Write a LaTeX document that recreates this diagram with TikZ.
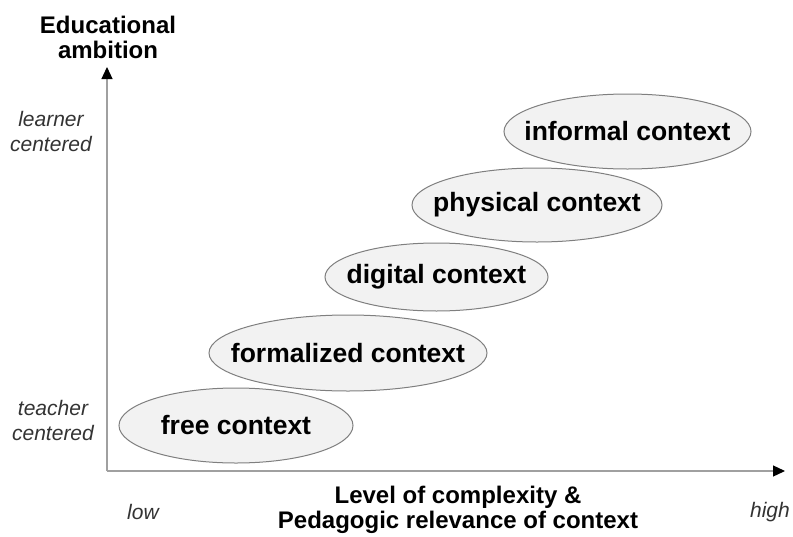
\documentclass[tikz,border=0pt]{standalone}
\usepackage{fontspec}
\setmainfont{Liberation Sans}
\usepackage{tikz}
\usetikzlibrary{positioning,shapes.geometric,arrows.meta}
\definecolor{ctxfill}{HTML}{F2F2F2}
\definecolor{ctxline}{HTML}{7F7F7F}
\definecolor{axisline}{HTML}{A0A0A0}
\definecolor{lbltext}{HTML}{333333}

\begin{document}
\begin{tikzpicture}[x=1pt, y=-1pt,
    axis/.style={%
      draw=axisline, line width=1.2pt,
      -{Triangle[length=12pt, width=11pt, color=black]}
    },
    ctx/.style={%
      ellipse, draw=ctxline, line width=1pt, fill=ctxfill,
      inner sep=0pt
    },
    ctxtext/.style={%
      inner sep=0pt, font=\fontsize{26.5}{30}\selectfont\bfseries
    },
    lbl/.style={%
      inner sep=0pt, align=center, text=lbltext,
      font=\fontsize{21}{25}\selectfont\itshape
    },
    ttl/.style={%
      inner sep=0pt, align=center,
      font=\fontsize{24}{25}\selectfont\bfseries
    }
]
    \useasboundingbox (0,0) rectangle (793,536);

    % axes
    \coordinate (o)  at (107,471);
    \coordinate (yt) at (107,67);
    \coordinate (xt) at (785,471);
    \draw[axis] (o) -- (yt);
    \draw[axis] (o) -- (xt);

    % contexts
    \node[ctx, minimum width=234pt, minimum height=75pt,
          label={[ctxtext]center:free context}]       (free)       at (236,425.5) {};
    \node[ctx, minimum width=278pt, minimum height=76pt,
          label={[ctxtext]center:formalized context}] (formalized) at (348,353)   {};
    \node[ctx, minimum width=223pt, minimum height=68pt,
          label={[ctxtext]center:digital context}]    (digital)    at (436.5,277) {};
    \node[ctx, minimum width=250pt, minimum height=74pt,
          label={[ctxtext]center:physical context}]   (physical)   at (537,205)   {};
    \node[ctx, minimum width=247pt, minimum height=75pt,
          label={[ctxtext]center:informal context}]   (informal)   at (627.5,131.5) {};

    % labels
    \node[ttl] (ambition)   at (108,37)  {Educational\\ambition};
    \node[ttl] (complexity) at (458,510) {Level of complexity \&\\Pedagogic relevance of context};
    \node[lbl] (learner)    at (51,131)  {learner\\centered};
    \node[lbl] (teacher)    at (53,420)  {teacher\\centered};
    \node[lbl] (low)        at (143,512) {low};
    \node[lbl] (high)       at (770,512) {high};

\end{tikzpicture}
\end{document}
